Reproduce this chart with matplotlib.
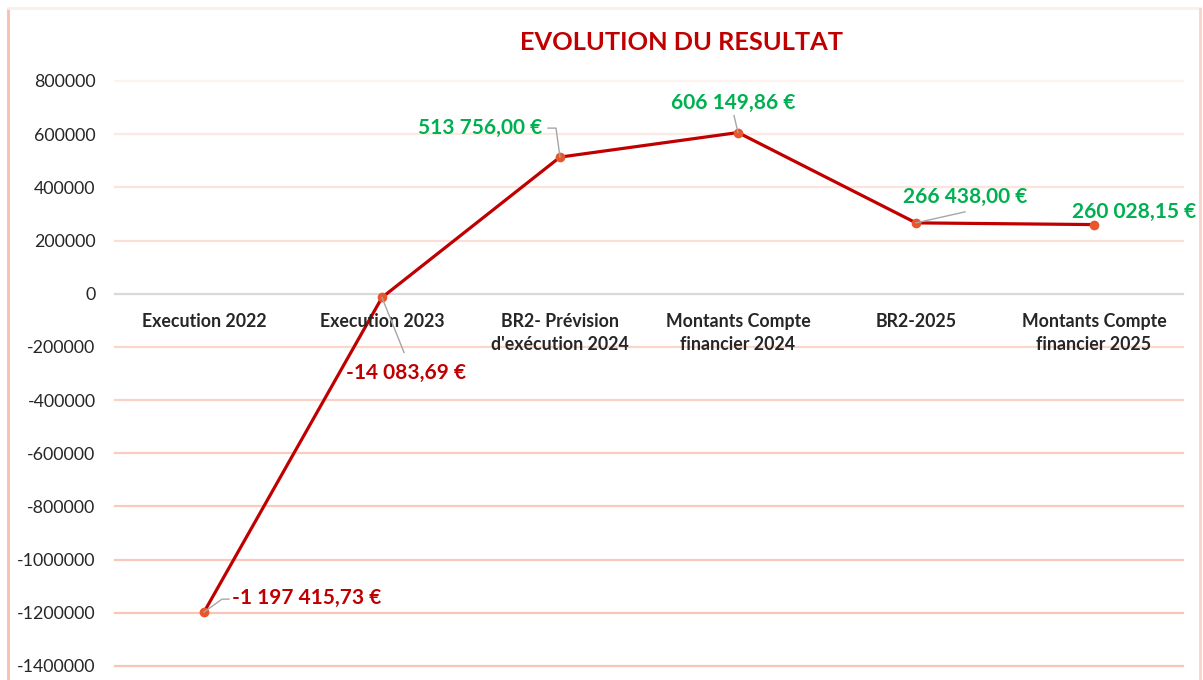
import matplotlib
matplotlib.use("Agg")
import matplotlib.pyplot as plt
from matplotlib.lines import Line2D

# ---- data ----
categories = ["Execution 2022", "Execution 2023", "BR2- Prévision\nd'exécution 2024",
              "Montants Compte\nfinancier 2024", "BR2-2025", "Montants Compte\nfinancier 2025"]
values = [-1197415.73, -14083.69, 513756.00, 606149.86, 266438.00, 260028.15]
value_labels = ["-1 197 415,73 €", "-14 083,69 €", "513 756,00 €", "606 149,86 €",
                "266 438,00 €", "260 028,15 €"]
yticks = [800000, 600000, 400000, 200000, 0, -200000, -400000, -600000, -800000,
          -1000000, -1200000, -1400000]
title = "EVOLUTION DU RESULTAT"

FONT = "Lato"
W, H = 1203, 680
fig = plt.figure(figsize=(W / 100, H / 100), dpi=100)
fig.patch.set_facecolor("white")

ax = fig.add_axes([115 / W, 1 - 666 / H, (1183 - 115) / W, (666 - 81) / H])
ax.set_xlim(-0.5, len(categories) - 0.5)
ax.set_ylim(-1400000, 800000)
for s in ax.spines.values():
    s.set_visible(False)
ax.set_xticks([])
ax.set_yticks(yticks)
ax.set_yticklabels([str(v) for v in yticks], fontfamily=FONT, fontsize=12.8, color="#262626")
ax.tick_params(axis="y", length=0, pad=14)

# gridlines (faint at top, pinker towards bottom)
grid_colors = ["#fdf2ee", "#fce9e3", "#fce3dc", "#fbdfd6", "#d9d9d9", "#fad6cb",
               "#f9d1c5", "#f9cdc0", "#f9cbbd", "#f8c8b9", "#f8c6b7", "#f8c4b4"]
for v, c in zip(yticks, grid_colors):
    ax.axhline(v, color=c, lw=1.6, zorder=0, clip_on=False)

xs = list(range(len(categories)))
ax.plot(xs, values, color="#c00000", lw=2.3, zorder=3, solid_capstyle="round")
ax.plot(xs, values, "o", color="#e8562a", ms=6, zorder=4, mec="#e8562a")

# category labels just under the zero line
for i, c in enumerate(categories):
    ax.annotate(c, xy=(i, 0), xytext=(0, -19), textcoords="offset pixels",
                ha="center", va="top", fontfamily=FONT, fontweight="bold",
                fontsize=12.8, color="#262626", linespacing=1.45)

# data labels: (text offset px, ha, leader pts in px offsets, color)
label_specs = [
    ((28, 14), "left", [(0, 0), (18, 13), (25, 13)], "#c00000"),
    ((24, -75), "center", [(0, 0), (22, -55)], "#c00000"),
    ((-18, 29), "right", [(0, 0), (-4, 29), (-12, 29)], "#00b050"),
    ((-5, 30), "center", [(0, 0), (-4, 17)], "#00b050"),
    ((49, 26), "center", [(0, 0), (49, 11)], "#00b050"),
    ((40, 13), "center", None, "#00b050"),
]
fig.canvas.draw()
for i, ((dx, dy), ha, leader, col) in enumerate(label_specs):
    ax.annotate(value_labels[i], xy=(i, values[i]), xytext=(dx, dy),
                textcoords="offset pixels", ha=ha, va="center",
                fontfamily=FONT, fontweight="bold", fontsize=15, color=col, zorder=5)
    if leader:
        px, py = ax.transData.transform((i, values[i]))
        lx = [(px + ox) / W for ox, oy in leader]
        ly = [(py + oy) / H for ox, oy in leader]
        fig.add_artist(Line2D(lx, ly, color="#a6a6a6", lw=1.0, transform=fig.transFigure, zorder=2))

fig.text(682 / W, 1 - 42 / H, title, ha="center", va="center", fontfamily=FONT,
         fontweight="bold", fontsize=18.3, color="#c00000")

# light pink chart frame
fig.add_artist(Line2D([8 / W, 8 / W], [0, 1 - 9 / H], color="#f6bfb0", lw=2, transform=fig.transFigure))
fig.add_artist(Line2D([8 / W, 1200 / W], [1 - 8 / H, 1 - 8 / H], color="#fdeee9", lw=2, transform=fig.transFigure))
fig.add_artist(Line2D([1200 / W, 1200 / W], [0, 1 - 9 / H], color="#f9d3c8", lw=2, transform=fig.transFigure))

fig.savefig("out.png", dpi=100, facecolor="white")
